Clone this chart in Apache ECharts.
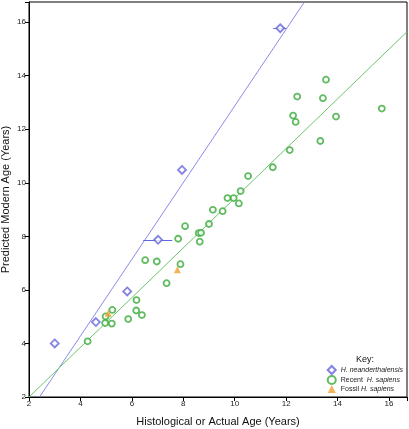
<!DOCTYPE html>
<html><head><meta charset="utf-8">
<script src="https://cdn.jsdelivr.net/npm/echarts@6/dist/echarts.min.js"></script>
<style>html,body{margin:0;padding:0;background:#fff}#c{width:409px;height:429px}</style>
</head><body><div id="c"></div>
<script>
// Data
const neanderthalX = [3.0, 4.6, 5.82, 7.02, 7.95, 11.77];
const neanderthalY = [4.0, 4.8, 5.94, 7.87, 10.48, 15.77];
// horizontal error bars (x range) for some neanderthal points
const errY    = [7.87, 15.77];
const errLow  = [6.44, 11.5];
const errHigh = [7.57, 12.0];

const recentX = [4.28, 4.98, 4.96, 5.22, 5.24, 5.86, 6.18, 6.17, 6.39, 6.52, 6.97, 7.35, 7.80, 7.89, 8.07, 8.60, 8.69, 8.64, 9.00, 9.15, 9.53, 9.72, 9.96, 10.16, 10.23, 10.52, 11.48, 12.14, 12.27, 12.37, 12.43, 13.33, 13.43, 13.55, 13.94, 15.72];
const recentY = [4.08, 5.01, 4.76, 4.74, 5.25, 4.91, 5.62, 5.23, 5.06, 7.11, 7.06, 6.25, 7.91, 6.96, 8.38, 8.12, 8.13, 7.80, 8.46, 8.99, 8.94, 9.43, 9.43, 9.23, 9.69, 10.25, 10.58, 11.22, 12.51, 12.27, 13.22, 11.56, 13.16, 13.85, 12.47, 12.77];

const fossilX = [5.08, 7.77];
const fossilY = [5.13, 6.75];

// regression line end points
const neanderthalFitX = [2.41, 12.71];
const neanderthalFitY = [2.0, 16.75];
const recentFitX = [2.0, 16.7];
const recentFitY = [2.0, 15.64];

const xTicks = [2, 4, 6, 8, 10, 12, 14, 16];
const yTicks = [2, 4, 6, 8, 10, 12, 14, 16];

const zip = (a, b) => a.map((v, i) => [v, b[i]]);
const FONT = '"Liberation Sans", Arial, sans-serif';
const BLUE = '#6464dc', BLUE_L = '#8a8ae8', GREEN = '#3aaa3a', GREEN_L = '#6cc46c', ORANGE = '#f0a030';

const chart = echarts.init(document.getElementById('c'), null, {renderer: 'canvas'});
const axisCommon = {
  type: 'value', min: 2, interval: 2,
  axisLine: {show: true, lineStyle: {color: '#000', width: 1}},
  axisTick: {show: true, length: 4, lineStyle: {color: '#000'}},
  splitLine: {show: false},
  nameLocation: 'middle',
  nameMoveOverlap: false,
  nameTextStyle: {fontFamily: FONT, fontSize: 11, color: '#111'}
};
chart.setOption({
  animation: false,
  grid: {left: 29, right: 2, top: 2, bottom: 32, show: true, borderColor: '#000', borderWidth: 1,
    containLabel: false, outerBoundsMode: 'none'},
  xAxis: Object.assign({}, axisCommon, {
    max: 16.7, name: 'Histological or Actual Age (Years)', nameGap: 19,
    axisLabel: {fontFamily: FONT, fontSize: 8, color: '#222', margin: 3,
      formatter: v => xTicks.includes(v) ? String(v) : ''}
  }),
  yAxis: Object.assign({}, axisCommon, {
    max: 16.75, name: 'Predicted Modern Age (Years)', nameGap: 18,
    axisLabel: {fontFamily: FONT, fontSize: 8, color: '#222', margin: 3,
      formatter: v => yTicks.includes(v) ? String(v) : ''}
  }),
  legend: {
    orient: 'vertical', right: 6, top: 365, itemGap: 0, itemWidth: 8, itemHeight: 8,
    align: 'left', selectedMode: false, padding: 0,
    data: ['H. neanderthalensis', 'Recent H. sapiens', 'Fossil H. sapiens'],
    formatter: name => name === 'H. neanderthalensis' ? '{i|H. neanderthalensis}' :
      name === 'Recent H. sapiens' ? '{n|Recent  }{i|H. sapiens}' : '{n|Fossil }{i|H. sapiens}',
    textStyle: {fontFamily: FONT, fontSize: 7, lineHeight: 8, color: '#222',
      rich: {
        i: {fontFamily: FONT, fontSize: 7, lineHeight: 8, fontStyle: 'italic', color: '#222'},
        n: {fontFamily: FONT, fontSize: 7, lineHeight: 8, color: '#222'}
      }}
  },
  graphic: [{type: 'text', left: 356, top: 355, style: {text: 'Key:', fontFamily: FONT, fontSize: 9, fill: '#111'}}],
  series: [
    {type: 'line', data: zip(neanderthalFitX, neanderthalFitY), symbol: 'none', silent: true,
      lineStyle: {color: BLUE_L, width: 1}, z: 1},
    {type: 'line', data: zip(recentFitX, recentFitY), symbol: 'none', silent: true,
      lineStyle: {color: GREEN_L, width: 1}, z: 1},
    {type: 'lines', coordinateSystem: 'cartesian2d', silent: true, z: 2,
      lineStyle: {color: BLUE, width: 1, opacity: 1},
      data: errY.map((y, i) => ({coords: [[errLow[i], y], [errHigh[i], y]]}))},
    {name: 'Recent H. sapiens', type: 'scatter', data: zip(recentX, recentY), symbol: 'circle', symbolSize: 6, z: 3,
      itemStyle: {color: '#fff', borderColor: GREEN, borderWidth: 1.8}},
    {name: 'Fossil H. sapiens', type: 'scatter', data: zip(fossilX, fossilY), symbol: 'triangle', symbolSize: 7, z: 4,
      itemStyle: {color: ORANGE}},
    {name: 'H. neanderthalensis', type: 'scatter', data: zip(neanderthalX, neanderthalY), symbol: 'diamond', symbolSize: 8, z: 5,
      itemStyle: {color: '#fff', borderColor: BLUE, borderWidth: 1.8}}
  ]
});
</script></body></html>
